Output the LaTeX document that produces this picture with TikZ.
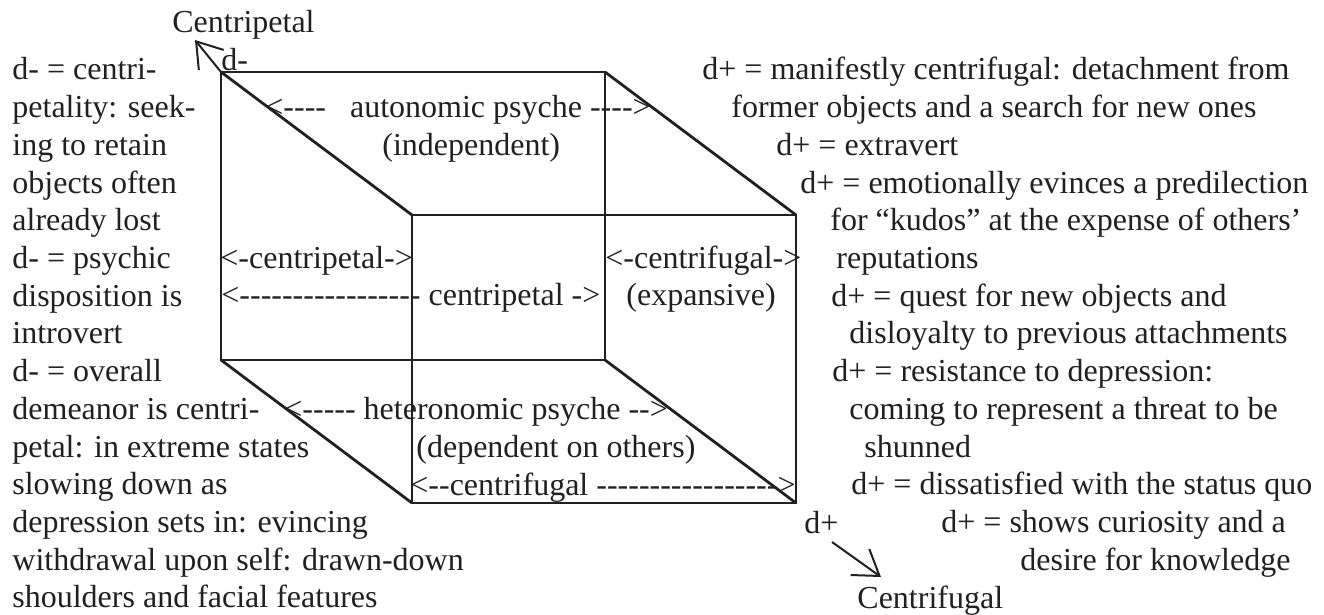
\documentclass[tikz,border=0pt]{standalone}
\usepackage{fontspec}
\newfontfamily\diafont{Liberation Serif}[Ligatures=TeXOff]
\usetikzlibrary{arrows.meta}
\definecolor{ink}{HTML}{231F20}

\begin{document}
\begin{tikzpicture}[
    x=0.5pt, y=-0.5pt,
    >={Straight Barb[length=12pt, width=16pt]},
    every node/.style={text=ink, inner sep=0pt,
      font=\diafont\fontsize{16}{19}\selectfont},
    cubeline/.style={draw=ink, line width=1.4pt},
    pointer/.style={draw=ink, line width=1pt, ->},
    txt/.style={anchor=base west},
  ]

  % Canvas (fixes the margins)
  \useasboundingbox (0,0) rectangle (1324,615);

  % === Cube: back face, front face, receding edges ===
  \coordinate (btl) at (221,72);
  \coordinate (btr) at (605,72);
  \coordinate (bbl) at (221,360);
  \coordinate (bbr) at (605,360);
  \coordinate (ftl) at (412,215);
  \coordinate (ftr) at (796,215);
  \coordinate (fbl) at (412,503);
  \coordinate (fbr) at (796,503);

  \draw[cubeline] (btl) rectangle (bbr);
  \draw[cubeline] (ftl) rectangle (fbr);
  \draw[cubeline] (btl) -- (ftl) (btr) -- (ftr) (bbl) -- (fbl) (bbr) -- (fbr);

  % === Poles ===
  \node[txt] (cpLabel) at (172,33) {Centripetal};
  \node[txt] (dminus) at (221,71) {d-};
  \coordinate (cpTip) at (195,40);
  \draw[pointer] (btl) -- (cpTip);

  \node[txt] (dplus) at (804,533) {d+};
  \node[txt] (cfLabel) at (857,608) {Centrifugal};
  \coordinate (cfTail) at (832,542);
  \coordinate (cfTip) at (881,577);
  \draw[pointer] (cfTail) -- (cfTip);

  % === Labels inside the cube ===
  \node[txt] (auto) at (265,118) {<----\hspace{8pt} autonomic psyche ---->};
  \node[txt] (indep) at (382,155.4) {(independent)};
  \node[txt] (cpBack) at (220,268.5) {<-centripetal->};
  \node[txt] (cfBack) at (605,268.5) {<-centrifugal->};
  \node[txt] (cpLong) at (221,306) {<----------------- centripetal ->};
  \node[txt] (expan) at (626,306) {(expansive)};
  \node[txt] (hetero) at (284,419) {<----- heteronomic psyche -->};
  \node[txt] (depen) at (416,457) {(dependent on others)};
  \node[txt] (cfLong) at (410,495) {<--centrifugal ----------------->};

  % === Left column: d- ===
  \foreach \txt [count=\i from 0] in {
      {d- = centri-}, {petality: seek-}, {ing to retain}, {objects often},
      {already lost}, {d- = psychic}, {disposition is}, {introvert},
      {d- = overall}, {demeanor is centri-}, {petal: in extreme states},
      {slowing down as}, {depression sets in: evincing},
      {withdrawal upon self: drawn-down}, {shoulders and facial features}}
    \node[txt] (left\i) at (12,80+37.7*\i) {\txt};

  % === Right column: d+ ===
  \foreach \xpos/\row/\txt [count=\i] in {
      702/0/{d+ = manifestly centrifugal: detachment from},
      731/1/{former objects and a search for new ones},
      776/2/{d+ = extravert},
      800/3/{d+ = emotionally evinces a predilection},
      830/4/{for “kudos” at the expense of others’},
      836/5/{reputations},
      831/6/{d+ = quest for new objects and},
      849/7/{disloyalty to previous attachments},
      832/8/{d+ = resistance to depression:},
      849/9/{coming to represent a threat to be},
      864/10/{shunned},
      851/11/{d+ = dissatisfied with the status quo},
      941/12/{d+ = shows curiosity and a},
      1020/13/{desire for knowledge}}
    \node[txt] (right\i) at (\xpos,80+37.7*\row) {\txt};

\end{tikzpicture}
\end{document}
